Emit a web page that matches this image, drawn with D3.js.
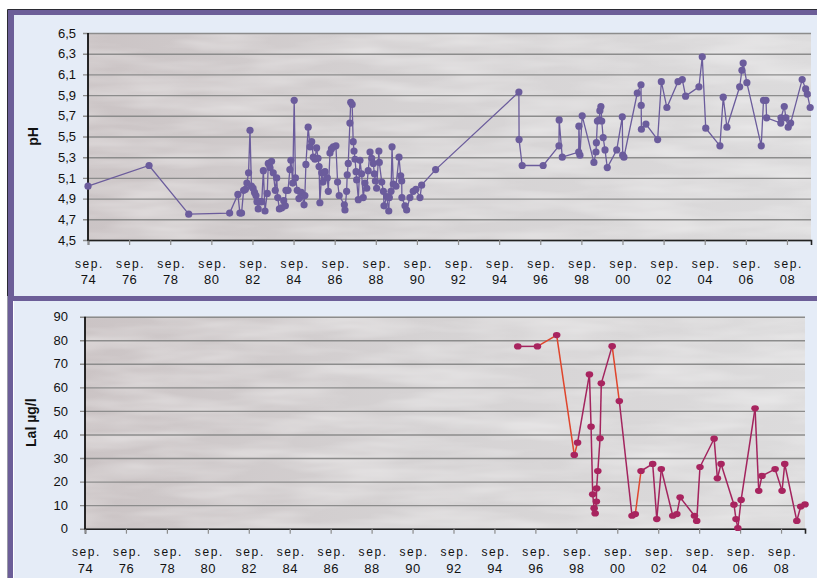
<!DOCTYPE html>
<html>
<head>
<meta charset="utf-8">
<script src="https://cdn.jsdelivr.net/npm/d3@7"></script>
<style>
  body { margin: 0; background: #fff; }
  svg { display: block; }
  text { font-family: "Liberation Sans", Arial, sans-serif; fill: #111; }
</style>
</head>
<body>
<div id="chart"></div>
<script>
// tick years (september of each even year)
var tickYears = [1974, 1976, 1978, 1980, 1982, 1984, 1986, 1988, 1990, 1992,
                 1994, 1996, 1998, 2000, 2002, 2004, 2006, 2008];
var phTicks = [4.5, 4.7, 4.9, 5.1, 5.3, 5.5, 5.7, 5.9, 6.1, 6.3, 6.5];
var lalTicks = [0, 10, 20, 30, 40, 50, 60, 70, 80, 90];

// pH samples: decimal year, value
var phDates = [1974.67, 1977.64, 1979.57, 1981.56, 1981.96, 1982.06, 1982.14, 1982.24, 1982.33, 1982.40,
  1982.48, 1982.55, 1982.62, 1982.70, 1982.77, 1982.84, 1982.89, 1982.95, 1983.04, 1983.12,
  1983.20, 1983.28, 1983.39, 1983.44, 1983.52, 1983.60, 1983.68, 1983.78, 1983.85, 1983.90,
  1983.98, 1984.09, 1984.19, 1984.27, 1984.30, 1984.40, 1984.49, 1984.54, 1984.63, 1984.70,
  1984.76, 1984.85, 1984.93, 1985.05, 1985.18, 1985.22, 1985.27, 1985.38, 1985.47, 1985.55,
  1985.63, 1985.71, 1985.79, 1985.86, 1985.91, 1985.95, 1986.04, 1986.10, 1986.20, 1986.31,
  1986.36, 1986.44, 1986.51, 1986.60, 1986.73, 1986.81, 1986.89, 1987.14, 1987.17, 1987.25,
  1987.28, 1987.33, 1987.41, 1987.45, 1987.52, 1987.57, 1987.61, 1987.66, 1987.71, 1987.74,
  1987.82, 1987.90, 1987.98, 1988.06, 1988.14, 1988.23, 1988.30, 1988.39, 1988.47, 1988.55,
  1988.60, 1988.65, 1988.71, 1988.82, 1988.84, 1988.96, 1989.04, 1989.07, 1989.20, 1989.30,
  1989.33, 1989.41, 1989.46, 1989.52, 1989.65, 1989.80, 1989.88, 1989.93, 1989.94, 1990.09,
  1990.17, 1990.33, 1990.49, 1990.62, 1990.82, 1990.90, 1991.58,
  1995.63, 1995.64, 1995.79, 1996.81, 1997.58, 1997.59, 1997.74, 1998.54, 1998.55, 1998.60,
  1998.71, 1999.28, 1999.38, 1999.40, 1999.45, 1999.54, 1999.57, 1999.62, 1999.66, 1999.73,
  1999.82, 1999.93, 2000.39, 2000.66, 2000.68, 2000.74, 2001.39, 2001.57, 2001.58, 2001.59,
  2001.81, 2002.38, 2002.56, 2002.83, 2003.37, 2003.58, 2003.74, 2004.39, 2004.55, 2004.72,
  2005.41, 2005.57, 2005.75, 2006.37, 2006.48, 2006.54, 2006.72, 2007.42, 2007.53, 2007.65,
  2007.68, 2008.37, 2008.38, 2008.54, 2008.62, 2008.73, 2008.85, 2009.41, 2009.58, 2009.66,
  2009.80];
var phValues = [5.02, 5.22, 4.75, 4.76, 4.94, 4.76, 4.76, 4.98, 4.99, 5.05,
  5.15, 5.56, 5.02, 5.00, 4.96, 4.93, 4.87, 4.80, 4.87, 4.87,
  5.17, 4.78, 4.95, 5.24, 5.20, 5.26, 5.15, 4.98, 5.10, 4.91,
  4.80, 4.81, 4.88, 4.83, 4.98, 4.98, 5.18, 5.27, 5.05, 5.85,
  5.10, 4.98, 4.90, 4.96, 4.84, 4.93, 5.23, 5.59, 5.40, 5.45,
  5.30, 5.28, 5.39, 5.29, 5.21, 4.86, 5.15, 5.06, 5.16, 5.10,
  4.97, 5.34, 5.38, 5.40, 5.41, 5.06, 4.93, 4.84, 4.79, 4.97,
  5.13, 5.24, 5.63, 5.83, 5.81, 5.45, 5.36, 5.28, 5.16, 5.08,
  4.89, 5.27, 5.14, 4.91, 5.05, 5.00, 5.17, 5.35, 5.29, 5.24,
  5.14, 5.07, 5.00, 5.36, 5.25, 5.06, 4.97, 4.83, 4.92, 4.78,
  4.91, 4.97, 5.40, 5.04, 5.02, 5.30, 5.12, 5.07, 4.91, 4.83,
  4.79, 4.91, 4.97, 4.99, 4.91, 5.03, 5.18,
  5.93, 5.47, 5.22, 5.22, 5.41, 5.66, 5.30, 5.35, 5.60, 5.32,
  5.70, 5.25, 5.35, 5.44, 5.65, 5.66, 5.75, 5.79, 5.65, 5.49,
  5.37, 5.20, 5.37, 5.69, 5.32, 5.30, 5.92, 6.00, 5.80, 5.57,
  5.62, 5.47, 6.03, 5.78, 6.03, 6.05, 5.89, 5.98, 6.27, 5.58,
  5.41, 5.88, 5.59, 5.98, 6.14, 6.21, 6.02, 5.41, 5.85, 5.85,
  5.68, 5.63, 5.68, 5.79, 5.68, 5.59, 5.63, 6.05, 5.96, 5.91,
  5.78];

// labile aluminium samples
var lalDates = [1995.81, 1996.77, 1997.71, 1998.57, 1998.73, 1999.31, 1999.39, 1999.47, 1999.54, 1999.59,
  1999.65, 1999.66, 1999.72, 1999.83, 1999.89, 2000.42, 2000.77, 2001.39, 2001.55, 2001.83,
  2002.40, 2002.60, 2002.82, 2003.38, 2003.58, 2003.74, 2004.44, 2004.55, 2004.71, 2005.40,
  2005.56, 2005.74, 2006.37, 2006.47, 2006.56, 2006.72, 2007.40, 2007.58, 2007.74, 2008.38,
  2008.72, 2008.85, 2009.44, 2009.63, 2009.84];
var lalValues = [77.4, 77.4, 82.2, 31.3, 36.5, 65.5, 43.3, 14.6, 8.7, 6.5,
  11.5, 17.1, 24.5, 38.4, 61.7, 77.5, 54.2, 5.5, 6.2, 24.5,
  27.5, 4.1, 25.3, 5.5, 6.2, 13.3, 5.5, 3.3, 26.2, 38.2,
  21.4, 27.5, 10.2, 4.1, 0.3, 12.2, 51.1, 16.1, 22.4, 25.3,
  16.1, 27.5, 3.3, 9.4, 10.3];
// segments (start index) drawn in the second, orange-red colour
var lalRedSegments = [1, 2, 3, 15, 18];

var W = 817, H = 578;
var xDomain = [1974.67, 2009.84];

var svg = d3.select("#chart").append("svg")
    .attr("width", W)
    .attr("height", H);

var defs = svg.append("defs");
var grad = defs.append("linearGradient").attr("id", "bg").attr("x1", 0).attr("x2", 1).attr("y1", 0).attr("y2", 0);
grad.append("stop").attr("offset", "0%").attr("stop-color", "#cbc4c5");
grad.append("stop").attr("offset", "45%").attr("stop-color", "#d5d2d3");
grad.append("stop").attr("offset", "100%").attr("stop-color", "#dcdbdc");

var tex = defs.append("filter").attr("id", "tex")
    .attr("x", 0).attr("y", 0).attr("width", 1).attr("height", 1);
tex.append("feTurbulence").attr("type", "fractalNoise")
    .attr("baseFrequency", "0.01 0.06").attr("numOctaves", 3).attr("seed", 4);
tex.append("feColorMatrix").attr("type", "matrix")
    .attr("values", "0 0 0 0 1  0 0 0 0 1  0 0 0 0 1  0 0 0 0.7 -0.25");

// frame
svg.append("rect").attr("x", 14).attr("y", 15).attr("width", W - 14).attr("height", H - 15).attr("fill", "#e5ecf7");
svg.append("rect").attr("x", 8).attr("y", 10).attr("width", W - 8).attr("height", 5).attr("fill", "#6c5e98");
svg.append("rect").attr("x", 8).attr("y", 10).attr("width", 6).attr("height", 286).attr("fill", "#6c5e98");
svg.append("rect").attr("x", 8).attr("y", 296).attr("width", 5).attr("height", H - 296).attr("fill", "#6c5e98");
svg.append("rect").attr("x", 8).attr("y", 296).attr("width", W - 8).attr("height", 5).attr("fill", "#6c5e98");
svg.append("line").attr("x1", 7.5).attr("x2", W).attr("y1", 9.5).attr("y2", 9.5).attr("stroke", "#2b2b33");
svg.append("line").attr("x1", 7.5).attr("x2", 7.5).attr("y1", 9.5).attr("y2", 296).attr("stroke", "#2b2b33");
svg.append("line").attr("x1", 7.5).attr("x2", 7.5).attr("y1", 296).attr("y2", H).attr("stroke", "#9a9aa6");

function drawPanel(opt) {
  var x = d3.scaleLinear().domain(xDomain).range([opt.left, opt.right]);
  var y = d3.scaleLinear().domain(opt.yDomain).range([opt.bottom, opt.top]);
  var g = svg.append("g");

  g.append("rect")
    .attr("x", opt.left).attr("y", opt.top)
    .attr("width", opt.right - opt.left).attr("height", opt.bottom - opt.top)
    .attr("fill", "url(#bg)");
  g.append("rect")
    .attr("x", opt.left).attr("y", opt.top)
    .attr("width", opt.right - opt.left).attr("height", opt.bottom - opt.top)
    .attr("fill", "#fff")
    .attr("filter", "url(#tex)");

  // horizontal grid + y ticks
  var yAxis = d3.axisLeft(y).tickValues(opt.yTicks).tickSize(opt.right - opt.left + 5)
    .tickPadding(opt.yPad)
    .tickFormat(opt.yFormat);
  var ya = g.append("g")
    .attr("transform", "translate(" + opt.right + ",0)")
    .call(yAxis);
  ya.select(".domain").remove();
  ya.selectAll(".tick line").attr("stroke", "#8c8c8c").attr("stroke-width", 1.4);
  ya.selectAll(".tick text").attr("font-size", 13).attr("fill", "#111")
    .style("font-family", "'Liberation Sans', Arial, sans-serif");

  // x axis
  var xAxis = d3.axisBottom(x)
    .tickValues(tickYears.map(function(t) { return t + 0.67; }))
    .tickSize(5).tickFormat("");
  var xa = g.append("g")
    .attr("transform", "translate(0," + opt.bottom + ")")
    .call(xAxis);
  xa.select(".domain").attr("stroke", "#222").attr("stroke-width", 1.6);
  xa.selectAll(".tick line").attr("stroke", "#8c8c8c").attr("stroke-width", 1.2);
  xa.selectAll(".tick").each(function(d, i) {
    var t = d3.select(this);
    t.append("text").attr("y", opt.lab1).attr("text-anchor", "middle")
      .attr("font-size", 12).style("letter-spacing", "1.6px").attr("dx", 1)
      .text("sep.");
    t.append("text").attr("y", opt.lab2).attr("text-anchor", "middle")
      .attr("font-size", 13).style("letter-spacing", "0.5px")
      .text(d3.format("02")(tickYears[i] % 100));
  });

  // left axis line
  g.append("line")
    .attr("x1", opt.left).attr("x2", opt.left)
    .attr("y1", opt.top).attr("y2", opt.bottom + 0.8)
    .attr("stroke", "#111").attr("stroke-width", 1.8);

  // axis title
  g.append("text")
    .attr("transform", "translate(" + opt.titleX + "," + ((opt.top + opt.bottom) / 2) + ") rotate(-90)")
    .attr("text-anchor", "middle")
    .attr("font-size", 14).attr("font-weight", "bold")
    .text(opt.title);

  return { x: x, y: y, g: g };
}

// pH panel
var p1 = drawPanel({
  left: 88, right: 811, top: 33, bottom: 240,
  yDomain: [4.5, 6.5], yTicks: phTicks, yPad: 7,
  yFormat: function(d) { return d3.format(".1f")(d).replace(".", ","); },
  lab1: 28, lab2: 44, titleX: 38, title: "pH"
});
var phData = phDates.map(function(d, i) { return [d, phValues[i]]; });
var phLine = d3.line().x(function(d) { return p1.x(d[0]); }).y(function(d) { return p1.y(d[1]); });
p1.g.append("path").datum(phData)
  .attr("d", phLine).attr("fill", "none")
  .attr("stroke", "#6b5c9c").attr("stroke-width", 1.3);
p1.g.selectAll(".ph").data(phData).enter().append("circle")
  .attr("class", "ph")
  .attr("cx", function(d) { return p1.x(d[0]); })
  .attr("cy", function(d) { return p1.y(d[1]); })
  .attr("r", 3.6)
  .attr("fill", "#6b5c9c");

// Lal panel
var p2 = drawPanel({
  left: 85, right: 805, top: 316.7, bottom: 528.7,
  yDomain: [0, 90], yTicks: lalTicks, yPad: 12,
  yFormat: d3.format("d"),
  lab1: 27, lab2: 44, titleX: 36, title: "Lal µg/l"
});
var lalData = lalDates.map(function(d, i) { return [d, lalValues[i]]; });
p2.g.selectAll(".seg").data(lalData.slice(0, -1)).enter().append("line")
  .attr("class", "seg")
  .attr("x1", function(d) { return p2.x(d[0]); })
  .attr("y1", function(d) { return p2.y(d[1]); })
  .attr("x2", function(d, i) { return p2.x(lalData[i + 1][0]); })
  .attr("y2", function(d, i) { return p2.y(lalData[i + 1][1]); })
  .attr("stroke", function(d, i) { return lalRedSegments.indexOf(i) >= 0 ? "#e0452c" : "#a3245e"; })
  .attr("stroke-width", 1.5);
p2.g.selectAll(".lal").data(lalData).enter().append("ellipse")
  .attr("class", "lal")
  .attr("cx", function(d) { return p2.x(d[0]); })
  .attr("cy", function(d) { return p2.y(d[1]); })
  .attr("rx", 3.8).attr("ry", 3.1)
  .attr("fill", "#a8245f");
</script>
</body>
</html>
